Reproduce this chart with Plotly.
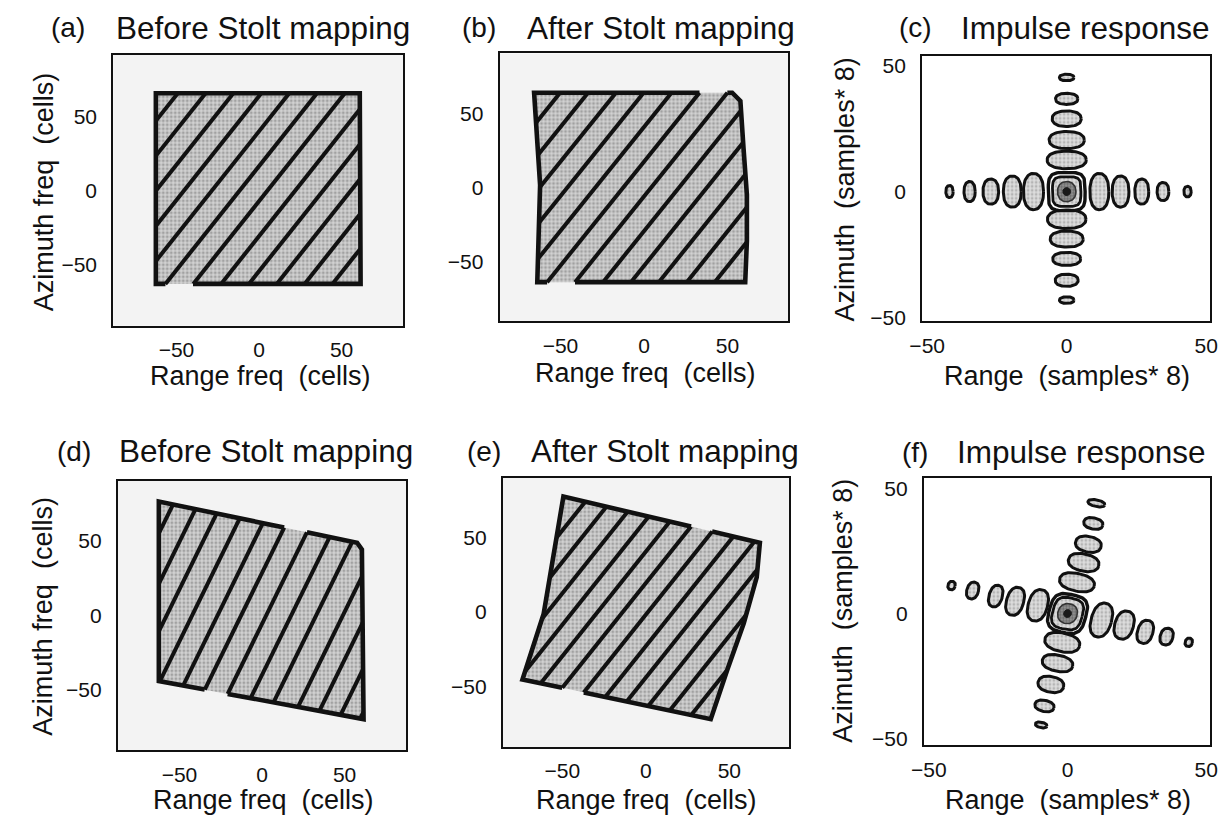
import numpy as np
import plotly.graph_objects as go

FONT = "Liberation Sans, Arial, Helvetica, sans-serif"
W, H = 1226, 822

# ---------------- tick values / labels ----------------
tick_vals = [-50, 0, 50]
tick_text = ["\u221250", "0", "50"]

# ---------------- texts ----------------
panel_letters = ["(a)", "(b)", "(c)", "(d)", "(e)", "(f)"]
panel_titles = ["Before Stolt mapping", "After Stolt mapping", "Impulse response",
                "Before Stolt mapping", "After Stolt mapping", "Impulse response"]
x_titles = ["Range freq\u00a0 (cells)", "Range freq\u00a0 (cells)", "Range\u00a0 (samples* 8)",
            "Range freq\u00a0 (cells)", "Range freq\u00a0 (cells)", "Range\u00a0 (samples* 8)"]
y_titles = ["Azimuth freq\u00a0 (cells)", None, "Azimuth\u00a0 (samples* 8)",
            "Azimuth freq\u00a0 (cells)", None, "Azimuth\u00a0 (samples* 8)"]

# ---------------- axis ranges (data units) ----------------
x_ranges = [[-88.3, 87.3], [-86.5, 86.5], [-51.8, 51.4],
            [-87.3, 87.3], [-85.6, 85.6], [-51.8, 51.4]]
y_ranges = [[-91.2, 91.5], [-90.0, 90.7], [-51.7, 53.8],
            [-91.1, 90.7], [-91.0, 90.5], [-52.7, 54.0]]

# ---------------- spectral support (panels a, b, d, e) ----------------
# border pieces in order around the support; gaps between pieces are un-outlined
a_border_x = [[-40.0, 61.5, 61.0, -62.5, -62.5, -56.7]]
a_border_y = [[-63.0, -63.0, 65.5, 65.5, -63.0, -63.0]]
a_stripe_slope = 1.40
a_stripe_icpt = [134.4, 110.8, 87.3, 63.6, 39.9, 16.4, -7.2, -30.8, -54.4, -78.0, -101.6, -125.2]

b_border_x = [[33.2, -65.8, -62.2, -63.9, -58.0],
              [-41.3, 60.6, 61.6, 61.6, 59.6, 57.7, 52.8, 49.9]]
b_border_y = [[64.2, 64.2, 2.0, -63.5, -63.5],
              [-63.5, -63.5, -35.8, -4.7, 26.5, 58.7, 64.2, 64.2]]
b_stripe_slope = 1.40
b_stripe_icpt = [134.5, 111.1, 87.7, 64.5, 41.1, 17.7, -5.7, -29.1, -52.5, -75.9, -99.3, -122.7]

d_border_x = [[13.4, -62.5, -62.5, -34.7],
              [-20.8, 61.5, 60.5, 57.6, 27.2]]
d_border_y = [[59.1, 76.7, -44.4, -50.1],
              [-53.0, -70.0, 44.4, 48.9, 55.9]]
d_stripe_slope = 2.27
d_stripe_icpt = [197, 163, 131, 96, 61, 28.6, -5.8, -40.2, -74.6, -111.3, -143.4, -175.2, -204.6]

e_border_x = [[27.1, -49.3, -61.1, -73.8, -50.0],
              [-37.1, 38.9, 48.8, 58.6, 66.4, 68.3, 39.7]]
e_border_y = [[57.6, 77.8, -1.1, -45.5, -51.1],
              [-54.2, -72.2, -38.9, -7.8, 23.3, 46.7, 54.3]]
e_stripe_slope = 1.41
e_stripe_icpt = [125.4, 104.2, 83.0, 61.8, 40.6, 19.4, -1.8, -23.0, -44.2, -65.4, -86.6, -107.8]

# ---------------- impulse responses (panels c, f) ----------------
# (c) side lobes along range axis (y = 0)
c_h_x = [-42.0, -34.8, -27.2, -19.5, -11.9, 11.7, 19.3, 26.9, 34.5, 43.3]
c_h_hw = [1.3, 2.0, 2.8, 3.2, 3.6, 3.4, 3.0, 2.5, 2.1, 1.3]
c_h_hh = [2.4, 4.0, 5.0, 6.2, 7.2, 7.2, 6.2, 5.0, 3.6, 2.1]
# (c) side lobes along azimuth axis (x = 0)
c_v_y = [45.4, 36.9, 29.0, 20.5, 12.6, -11.0, -18.9, -26.8, -35.3, -43.2]
c_v_hw = [2.6, 4.0, 5.2, 6.3, 7.0, 6.9, 5.9, 5.0, 4.1, 2.6]
c_v_hh = [1.3, 2.2, 3.1, 3.4, 3.5, 3.7, 3.2, 2.6, 2.4, 1.3]
# (c) main lobe contours (half sizes)
c_core_hw = [6.6, 5.1, 3.3, 1.4]
c_core_hh = [7.6, 5.9, 4.0, 1.6]

# (f) squinted response: range-arm lobes
f_h_x = [-41.8, -34.2, -25.9, -18.9, -10.7, 12.2, 20.4, 28.0, 35.7, 43.7]
f_h_y = [11.2, 9.2, 7.0, 4.9, 3.3, -2.6, -4.6, -7.3, -9.2, -11.5]
f_h_hw = [1.3, 2.1, 2.4, 3.1, 3.5, 3.7, 3.4, 2.8, 2.3, 1.3]
f_h_hh = [1.7, 3.4, 4.4, 5.7, 6.4, 6.9, 5.7, 4.7, 3.4, 1.7]
# (f) azimuth-arm lobes
f_v_x = [10.4, 9.3, 7.5, 5.8, 3.4, -1.9, -3.6, -6.0, -8.3, -9.5]
f_v_y = [44.1, 36.0, 27.7, 20.4, 12.5, -11.5, -19.8, -28.3, -36.9, -44.5]
f_v_hw = [3.1, 3.5, 4.7, 5.6, 6.4, 6.4, 5.6, 4.7, 3.5, 2.1]
f_v_hh = [1.3, 2.2, 3.1, 3.4, 3.5, 3.7, 3.2, 3.1, 2.2, 1.1]
f_core_hw = [6.7, 5.4, 3.5, 1.4]
f_core_hh = [7.7, 6.3, 4.0, 1.6]
f_tilt_deg = -14.0

# ---------------- layout geometry (pixels) ----------------
frames = [(102, 397, 53.3, 327.3), (495, 789, 52, 323), (925, 1218, 55, 323),
          (106.7, 400, 484, 756.7), (498.3, 789.3, 481, 753.3), (926.7, 1218, 481.7, 751.7)]
letter_pos = [(56, 26), (474, 26), (918, 26), (62, 454), (479, 454), (918, 455)]
title_pos = [(254.5, 26), (659, 26), (1091, 26), (257.5, 454), (663, 454), (1087.5, 455)]
xt_pos = [(252, 378), (644, 375), (1072, 378), (255, 807), (645, 807), (1073, 807)]
yt_pos = [(31, 192), None, (846, 190), (31, 621), None, (845, 616)]

BLACK = "#111111"
fill_pat = dict(shape=".", fgcolor="#707070", bgcolor="#d2d2d2", size=4, solidity=0.45)
lobe_pat = dict(shape=".", fgcolor="#8a8a8a", bgcolor="#dedede", size=4, solidity=0.4)
dark_pat = dict(shape=".", fgcolor="#333333", bgcolor="#9a9a9a", size=3, solidity=0.5)


def px2paper_x(p):
    return p / W


def px2paper_y(p):
    return 1 - p / H


def clip_line(poly_x, poly_y, s, b):
    xs = []
    n = len(poly_x)
    for i in range(n):
        x1, y1 = poly_x[i], poly_y[i]
        x2, y2 = poly_x[(i + 1) % n], poly_y[(i + 1) % n]
        f1 = y1 - s * x1 - b
        f2 = y2 - s * x2 - b
        if (f1 > 0) != (f2 > 0):
            t = f1 / (f1 - f2)
            xs.append(x1 + t * (x2 - x1))
    xs.sort()
    return [(xs[j], xs[j + 1]) for j in range(0, len(xs) - 1, 2)]


def blob(cx, cy, hw, hh, n=2.0, rot=0.0, npts=72):
    t = np.linspace(0, 2 * np.pi, npts)
    c, s = np.cos(t), np.sin(t)
    ex = hw * np.sign(c) * np.abs(c) ** (2.0 / n)
    ey = hh * np.sign(s) * np.abs(s) ** (2.0 / n)
    r = np.deg2rad(rot)
    return cx + ex * np.cos(r) - ey * np.sin(r), cy + ex * np.sin(r) + ey * np.cos(r)


fig = go.Figure()


def axis_names(k):
    return ("x" if k == 0 else f"x{k+1}"), ("y" if k == 0 else f"y{k+1}")


def add_support(k, bx, by, slope, icpts):
    xa, ya = axis_names(k)
    poly_x = [v for piece in bx for v in piece]
    poly_y = [v for piece in by for v in piece]
    fig.add_trace(go.Scatter(x=poly_x + [poly_x[0]], y=poly_y + [poly_y[0]], mode="lines",
                             fill="toself", fillcolor="#d2d2d2", fillpattern=fill_pat,
                             line=dict(width=0, color="rgba(0,0,0,0)"),
                             xaxis=xa, yaxis=ya, hoverinfo="skip"))
    sx, sy = [], []
    for b in icpts:
        for x0, x1 in clip_line(poly_x, poly_y, slope, b):
            sx += [x0, x1, None]
            sy += [slope * x0 + b, slope * x1 + b, None]
    fig.add_trace(go.Scatter(x=sx, y=sy, mode="lines", line=dict(color=BLACK, width=4.0),
                             xaxis=xa, yaxis=ya, hoverinfo="skip"))
    ox, oy = [], []
    for px_, py_ in zip(bx, by):
        ox += list(px_) + [None]
        oy += list(py_) + [None]
    fig.add_trace(go.Scatter(x=ox, y=oy, mode="lines", line=dict(color=BLACK, width=4.6),
                             xaxis=xa, yaxis=ya, hoverinfo="skip"))


def add_lobes(k, cxs, cys, hws, hhs, rot, n=2.3):
    xa, ya = axis_names(k)
    lx, ly = [], []
    for cx, cy, hw, hh in zip(cxs, cys, hws, hhs):
        x, y = blob(cx, cy, hw, hh, n=n, rot=rot)
        lx += list(x) + [None]
        ly += list(y) + [None]
    fig.add_trace(go.Scatter(x=lx, y=ly, mode="lines", fill="toself", fillcolor="#dedede",
                             fillpattern=lobe_pat, line=dict(color=BLACK, width=3.0),
                             xaxis=xa, yaxis=ya, hoverinfo="skip"))


def add_core(k, hws, hhs, rot, n_outer):
    xa, ya = axis_names(k)
    x, y = blob(0, 0, hws[0], hhs[0], n=n_outer, rot=rot)
    fig.add_trace(go.Scatter(x=x, y=y, mode="lines", line=dict(color=BLACK, width=3.4),
                             xaxis=xa, yaxis=ya, hoverinfo="skip"))
    x, y = blob(0, 0, hws[1], hhs[1], n=n_outer, rot=rot)
    fig.add_trace(go.Scatter(x=x, y=y, mode="lines", fill="toself", fillcolor="#d8d8d8",
                             fillpattern=lobe_pat, line=dict(color=BLACK, width=2.8),
                             xaxis=xa, yaxis=ya, hoverinfo="skip"))
    x, y = blob(0, 0, hws[2], hhs[2], n=2.2, rot=rot)
    fig.add_trace(go.Scatter(x=x, y=y, mode="lines", fill="toself", fillcolor="#9a9a9a",
                             fillpattern=dark_pat, line=dict(color="#333333", width=1.6),
                             xaxis=xa, yaxis=ya, hoverinfo="skip"))
    x, y = blob(0, 0, hws[3], hhs[3], n=2.0, rot=rot)
    fig.add_trace(go.Scatter(x=x, y=y, mode="lines", fill="toself", fillcolor="#1a1a1a",
                             line=dict(color="#1a1a1a", width=1),
                             xaxis=xa, yaxis=ya, hoverinfo="skip"))


add_support(0, a_border_x, a_border_y, a_stripe_slope, a_stripe_icpt)
add_support(1, b_border_x, b_border_y, b_stripe_slope, b_stripe_icpt)
add_support(3, d_border_x, d_border_y, d_stripe_slope, d_stripe_icpt)
add_support(4, e_border_x, e_border_y, e_stripe_slope, e_stripe_icpt)

add_lobes(2, c_h_x, [0] * len(c_h_x), c_h_hw, c_h_hh, 0.0)
add_lobes(2, [0] * len(c_v_y), c_v_y, c_v_hw, c_v_hh, 0.0)
add_core(2, c_core_hw, c_core_hh, 0.0, 4.0)

add_lobes(5, f_h_x, f_h_y, f_h_hw, f_h_hh, f_tilt_deg)
add_lobes(5, f_v_x, f_v_y, f_v_hw, f_v_hh, f_tilt_deg)
add_core(5, f_core_hw, f_core_hh, f_tilt_deg, 3.2)

layout = dict(width=W, height=H, margin=dict(l=0, r=0, t=0, b=0),
              paper_bgcolor="white", plot_bgcolor="white", showlegend=False,
              font=dict(family=FONT, color=BLACK))
shapes = []
annotations = []
for k in range(6):
    l, r, t, b = frames[k]
    xa, ya = axis_names(k)
    xkey = "xaxis" if k == 0 else f"xaxis{k+1}"
    ykey = "yaxis" if k == 0 else f"yaxis{k+1}"
    common = dict(showgrid=False, zeroline=False, showline=True, mirror=True, linecolor=BLACK,
                  linewidth=2, tickvals=tick_vals, ticktext=tick_text, ticks="",
                  tickfont=dict(size=21, family=FONT, color=BLACK), fixedrange=True)
    layout[xkey] = dict(common, range=x_ranges[k], domain=[px2paper_x(l), px2paper_x(r)],
                        anchor=ya, ticklabelstandoff=4)
    layout[ykey] = dict(common, range=y_ranges[k], domain=[px2paper_y(b), px2paper_y(t)],
                        anchor=xa, ticklabelstandoff=10)
    if k in (0, 1, 3, 4):
        shapes.append(dict(type="rect", xref=f"{xa} domain", yref=f"{ya} domain",
                           x0=0, x1=1, y0=0, y1=1, fillcolor="#f3f3f3", line=dict(width=0),
                           layer="below"))
    lx, ly = letter_pos[k]
    annotations.append(dict(text=panel_letters[k], x=px2paper_x(lx), y=px2paper_y(ly),
                            xref="paper", yref="paper", xanchor="center", yanchor="middle",
                            showarrow=False, font=dict(size=28, family=FONT, color=BLACK)))
    tx, ty = title_pos[k]
    annotations.append(dict(text=panel_titles[k], x=px2paper_x(tx), y=px2paper_y(ty),
                            xref="paper", yref="paper", xanchor="center", yanchor="middle",
                            showarrow=False, font=dict(size=31.5, family=FONT, color=BLACK)))
    xx, xy = xt_pos[k]
    annotations.append(dict(text=x_titles[k], x=px2paper_x(xx), y=px2paper_y(xy),
                            xref="paper", yref="paper", xanchor="center", yanchor="middle",
                            showarrow=False, font=dict(size=27, family=FONT, color=BLACK)))
    if y_titles[k]:
        yx, yy = yt_pos[k]
        annotations.append(dict(text=y_titles[k], x=px2paper_x(yx), y=px2paper_y(yy),
                                xref="paper", yref="paper", xanchor="center", yanchor="middle",
                                textangle=-90, showarrow=False,
                                font=dict(size=27, family=FONT, color=BLACK)))

layout["shapes"] = shapes
layout["annotations"] = annotations
fig.update_layout(**layout)
fig.write_html("out.html")
